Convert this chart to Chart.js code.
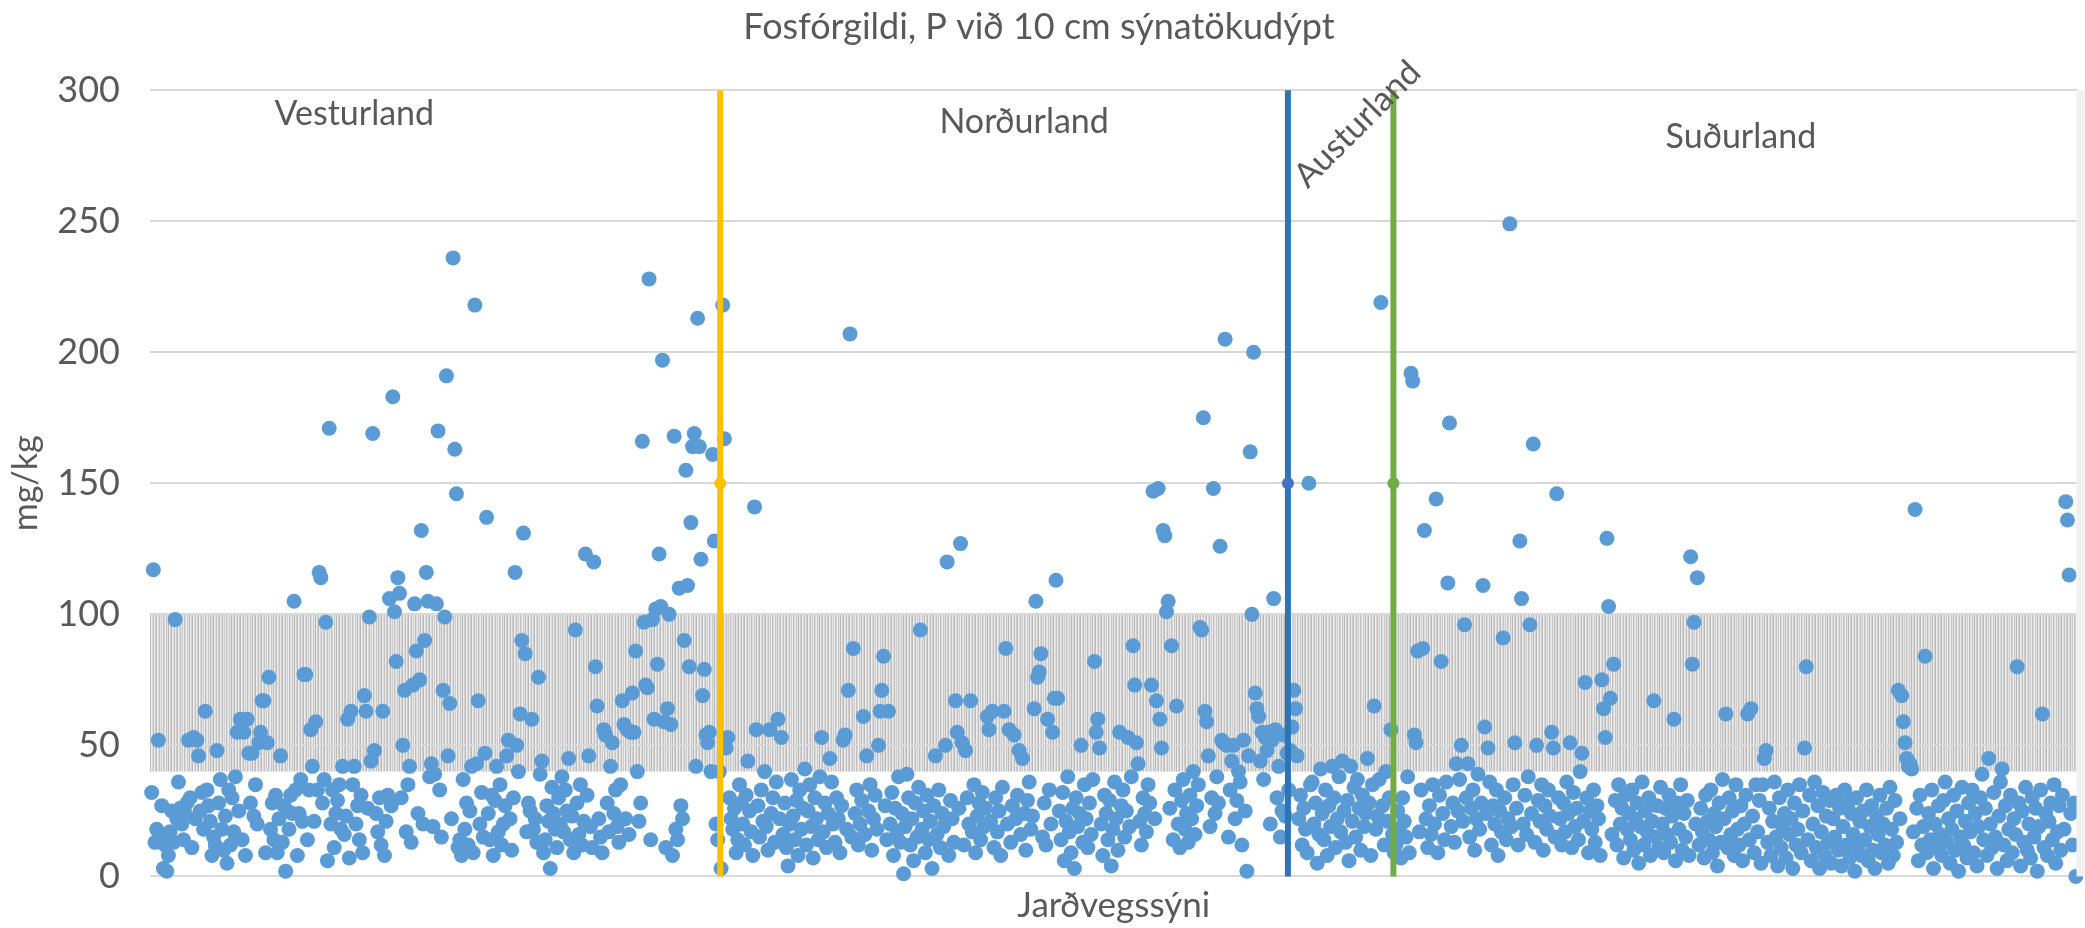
<!DOCTYPE html>
<html>
<head>
<meta charset="utf-8">
<script src="https://cdn.jsdelivr.net/npm/chart.js@4.4.1/dist/chart.umd.min.js"></script>
<style>
  html, body { margin: 0; padding: 0; background: #fff; }
  #wrap { width: 2085px; height: 928px; }
</style>
</head>
<body>
<div id="wrap"><canvas id="chart"></canvas></div>
<script>
// P (mg/kg) per sample, in sample order, split by region
const vesturland = [
  32,117,13,18,52,15,27,3,12,2,8,17,25,13,98,22,36,26,20,14,
  24,28,52,30,11,53,22,52,46,25,32,18,63,33,27,21,8,15,12,48,
  28,37,18,10,23,5,33,12,30,17,38,55,25,60,14,55,8,60,47,28,
  47,23,35,20,51,55,67,67,9,51,76,18,28,14,31,9,22,46,13,27,
  2,25,18,31,24,105,33,8,24,37,21,77,77,14,33,56,42,21,59,33,
  116,114,28,37,97,6,171,20,33,11,24,29,35,18,42,16,23,60,7,63,
  35,42,20,27,14,31,9,69,63,26,99,44,169,48,24,17,30,12,63,8,
  21,31,106,27,183,101,82,114,108,30,50,71,17,35,42,13,73,104,86,24,
  75,132,20,90,116,105,38,43,19,39,104,170,33,15,71,99,191,46,66,22,
  236,163,146,11,14,8,37,18,28,12,25,42,9,218,43,67,20,32,15,47,
  137,24,14,31,8,29,42,17,35,12,20,27,46,52,22,10,30,116,50,40,
  62,90,131,85,17,28,25,60,18,22,13,76,39,44,9,14,27,21,3,34,
  24,18,11,30,20,38,17,33,25,45,14,23,9,94,28,16,35,12,21,123,
  31,46,19,11,120,80,65,22,15,9,56,54,28,17,42,51,24,33,19,13,
  35,67,58,22,56,16,55,70,55,86,40,21,28,166,97,73,72,228,14,98,
  60,102,81,123,103,197,59,11,64,100,58,8,168,18,14,110,27,22,90,155,
  111,80,135,164,169,42,213,164,121,69,79,54,51,55,40,161,128,20,14,40
];
const nordurland = [
  3,218,167,49,53,30,22,18,26,9,14,35,28,20,12,31,44,25,17,8,
  141,56,27,15,33,21,40,19,10,56,24,30,13,36,60,22,53,16,28,11,
  4,20,37,23,14,29,8,33,18,26,41,12,25,35,19,7,30,22,14,38,
  53,17,28,11,24,45,36,20,13,30,22,9,27,52,54,18,71,207,15,87,
  24,33,12,20,29,61,16,46,25,35,10,22,31,18,50,63,71,84,27,14,
  63,20,32,8,26,17,38,13,24,1,19,39,30,12,22,6,28,15,34,94,
  18,25,9,31,14,21,3,27,46,16,33,11,24,19,50,120,8,29,22,13,
  67,55,26,127,51,12,48,30,20,67,17,35,9,23,28,14,32,19,26,61,
  56,21,63,11,30,17,25,8,34,63,87,20,56,13,27,54,22,31,48,16,
  45,24,10,29,36,18,23,64,105,76,78,85,15,28,12,60,33,20,55,68,
  113,68,25,14,32,6,21,38,17,9,26,3,30,19,24,50,13,35,22,11,
  28,16,37,82,55,60,49,20,8,31,24,14,29,4,18,36,22,10,55,27,
  33,15,25,53,19,38,88,73,51,43,21,12,30,24,17,35,28,73,147,22,
  67,148,60,49,132,130,101,105,26,88,14,33,65,20,11,29,37,18,24,13,
  31,22,40,16,27,35,95,94,175,63,59,46,19,30,148,24,38,28,126,52,
  51,205,50,15,33,44,50,22,29,40,36,12,52,25,2,46,162,100,200,70,
  64,61,44,55,37,53,48,55,20,52,106,56,30,42,15,25,54,23,47,33
];
const austurland = [
  48,57,71,64,46,22,31,12,26,18,9,150,35,36,20,28,5,16,41,24,
  14,33,8,27,19,42,30,11,22,38,17,44,25,13,29,6,42,21,34,15,
  37,26,10,31,19,24,45,28,8,35,65,18,23,37,219,27,12,40,21,30,
  56,16,9
];
const sudurland = [
  12,25,18,7,30,21,15,38,9,192,189,54,51,86,17,33,87,132,22,11,
  27,16,35,20,144,9,31,82,24,14,36,112,173,19,28,13,43,25,37,50,
  21,96,30,43,15,26,33,10,22,39,18,28,111,57,24,49,36,12,27,20,
  33,8,25,17,91,30,14,22,249,19,35,51,26,12,128,106,20,31,16,38,
  96,24,165,13,50,29,21,35,10,27,18,33,23,55,49,15,146,30,22,12,
  28,17,36,24,51,11,32,19,26,14,40,47,21,74,30,9,25,18,33,13,
  27,22,8,75,64,53,129,103,68,16,81,29,12,35,20,26,7,31,18,24,
  14,33,10,22,28,5,19,36,12,25,17,30,8,21,67,15,27,11,34,20,
  9,26,16,31,13,23,60,6,28,18,35,10,24,15,29,8,122,81,97,20,
  114,12,26,17,7,31,21,14,33,9,24,19,4,28,13,37,22,62,11,30,
  16,25,8,35,18,12,27,6,20,31,62,14,64,23,9,35,17,29,5,35,
  45,48,13,26,8,21,36,15,4,30,11,19,24,7,33,16,22,3,28,12,
  18,35,9,25,49,80,14,31,6,20,36,11,27,3,17,32,8,23,13,29,
  5,22,15,31,10,26,4,19,33,12,28,7,24,16,2,30,11,21,8,25,
  14,33,6,19,27,10,3,23,16,31,9,20,12,26,5,34,18,8,29,13,
  71,22,69,59,51,45,42,43,41,17,140,26,6,31,12,19,84,9,24,14,
  33,3,20,11,27,16,8,29,36,13,22,5,18,31,10,25,2,15,34,12,
  21,7,28,17,33,9,24,4,19,30,39,14,26,8,45,20,11,32,15,3,
  23,36,41,12,27,6,18,31,9,22,16,80,28,4,25,13,34,10,20,7,
  30,15,26,2,19,33,62,11,24,8,21,28,14,35,5,17,27,10,31,18,
  143,136,115,24,12,28,0
];

const regionNames = ['Vesturland', 'Norðurland', 'Austurland', 'Suðurland'];
const dividerX = [339.5, 678.5, 741.5];      // sample position of region borders
const dividerColors = ['#FFC000', '#2E75B6', '#70AD47'];
const dividerMarkColors = ['#FFC000', '#4472C4', '#70AD47'];
const bandRange = [40, 100];                 // shaded reference band, mg/kg

const samples = [].concat(vesturland, nordurland, austurland, sudurland);
const points = samples.map((v, i) => ({ x: i, y: v }));

// where the region names sit, in data units
const regionLabelPos = [
  { x: 121, y: 291, rot: 0 },
  { x: 521, y: 288, rot: 0 },
  { x: 720, y: 287, rot: -45 },
  { x: 949, y: 282, rot: 0 },
];

const textColor = '#595959';
const fontFamily = 'Lato, "Open Sans", sans-serif';

function bandPattern() {
  const shades = ['#bababa', '#e6e6e6', '#d4d4d4', '#b8b8b8', '#eeeeee', '#dadada', '#c2c2c2',
    '#e9e9e9', '#cfcfcf', '#bababa', '#efefef', '#d8d8d8', '#c4c4c4', '#e4e4e4', '#cdcdcd', '#ececec',
    '#bfbfbf', '#dcdcdc', '#eaeaea', '#c8c8c8', '#e2e2e2'];
  const c = document.createElement('canvas');
  c.width = shades.length; c.height = 4;
  const g = c.getContext('2d');
  shades.forEach((s, i) => { g.fillStyle = s; g.fillRect(i, 0, 1, 4); });
  return g.createPattern(c, 'repeat');
}

const bandPlugin = {
  id: 'band',
  beforeDraw(chart) {
    const { ctx, chartArea: a, scales: { y } } = chart;
    const top = y.getPixelForValue(bandRange[1]);
    const bot = y.getPixelForValue(bandRange[0]);
    ctx.save();
    ctx.fillStyle = bandPattern();
    ctx.fillRect(a.left, top, a.right - a.left, bot - top);
    ctx.restore();
  },
};

const labelPlugin = {
  id: 'regionLabels',
  afterDraw(chart) {
    const { ctx, chartArea: a, scales: { x, y } } = chart;
    ctx.save();
    // light strip on the right edge of the plot
    ctx.fillStyle = '#f0f0f0';
    ctx.fillRect(a.right - 1, a.top, 8, a.bottom - a.top);
    ctx.fillStyle = textColor;
    ctx.font = '34px ' + fontFamily;
    ctx.textAlign = 'center';
    ctx.textBaseline = 'middle';
    regionNames.forEach((name, i) => {
      const p = regionLabelPos[i];
      ctx.save();
      ctx.translate(x.getPixelForValue(p.x), y.getPixelForValue(p.y));
      ctx.rotate(p.rot * Math.PI / 180);
      ctx.fillText(name, 0, 0);
      ctx.restore();
    });
    ctx.restore();
  },
};

const dividerSets = dividerX.map((xv, i) => ({
  data: [{ x: xv, y: 0 }, { x: xv, y: 150 }, { x: xv, y: 300 }],
  showLine: true,
  borderColor: dividerColors[i],
  borderWidth: 6,
  pointRadius: [0, 6, 0],
  pointBackgroundColor: dividerMarkColors[i],
  pointBorderWidth: 0,
  clip: false,
}));

new Chart(document.getElementById('chart'), {
  type: 'scatter',
  data: {
    datasets: [
      ...dividerSets,
      {
        data: points,
        backgroundColor: '#5B9BD5',
        borderWidth: 0,
        pointRadius: 7.5,
        clip: false,
      },
    ],
  },
  options: {
    responsive: true,
    maintainAspectRatio: false,
    animation: false,
    layout: { padding: { left: 0, right: 7, top: 0, bottom: 0 } },
    plugins: {
      legend: { display: false },
      tooltip: { enabled: false },
      title: {
        display: true,
        text: 'Fosfórgildi, P við 10 cm sýnatökudýpt',
        color: textColor,
        font: { family: fontFamily, size: 36, weight: 'normal' },
        padding: { top: 6, bottom: 41 },
      },
    },
    scales: {
      x: {
        type: 'linear',
        min: -1,
        max: 1150,
        ticks: { display: false },
        grid: { display: false },
        border: { display: false },
        title: {
          display: true,
          text: 'Jarðvegssýni',
          color: textColor,
          font: { family: fontFamily, size: 35 },
          padding: { top: 0, bottom: 0 },
        },
        afterFit(s) { s.height = 50; },
      },
      y: {
        min: 0,
        max: 300,
        ticks: {
          stepSize: 50,
          padding: 30,
          color: textColor,
          font: { family: fontFamily, size: 36 },
        },
        grid: { color: '#d9d9d9', lineWidth: 2, drawTicks: false },
        border: { display: false },
        title: {
          display: true,
          text: 'mg/kg',
          color: textColor,
          font: { family: fontFamily, size: 34 },
          padding: { top: 6, bottom: 0 },
        },
        afterFit(s) { s.width = 150; },
      },
    },
  },
  plugins: [bandPlugin, labelPlugin],
});
</script>
</body>
</html>
